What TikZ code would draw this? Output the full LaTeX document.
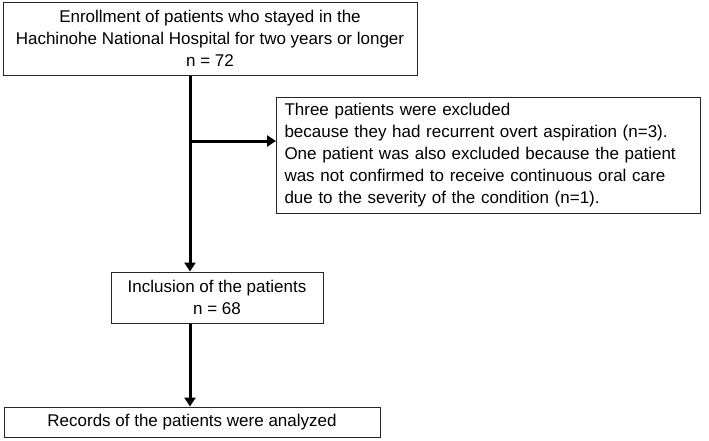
\documentclass[tikz,border=0pt]{standalone}
\usepackage{fontspec}
\setmainfont{Liberation Sans}
\usetikzlibrary{arrows.meta}
\begin{document}
\begin{tikzpicture}[x=1pt,y=-1pt,
  box/.style={draw=black!85, line width=1pt, inner sep=0pt, font=\fontsize{17}{22}\selectfont},
  conn/.style={line width=3pt, -{Triangle[length=9pt,width=11pt]}}]
\useasboundingbox (0,0) rectangle (709,440);
\node[box, align=center, minimum width=414pt, minimum height=73pt] (b1) at (210,38.5)
  {Enrollment of patients who stayed in the\\Hachinohe National Hospital for two years or longer\\n = 72};
\node[box, align=left, anchor=north west, minimum width=424pt, minimum height=116pt, inner xsep=8pt, text width=408pt] (b3) at (276,97)
  {Three patients were excluded\\because they had recurrent overt aspiration (n=3).\\One patient was also excluded because the patient\\was not confirmed to receive continuous oral care\\due to the severity of the condition (n=1).};
\node[box, align=center, minimum width=212pt, minimum height=51pt] (b2) at (217,297.5)
  {Inclusion of the patients\\n = 68};
\node[box, align=center, minimum width=376pt, minimum height=30pt] (b4) at (192,422)
  {Records of the patients were analyzed};
\coordinate (j) at (190,141);
\draw[conn] (b1.south -| j) -- (b2.north -| j);
\draw[conn] (j) -- (b3.west |- j);
\draw[conn] (b2.south -| j) -- (b4.north -| j);
\end{tikzpicture}
\end{document}
